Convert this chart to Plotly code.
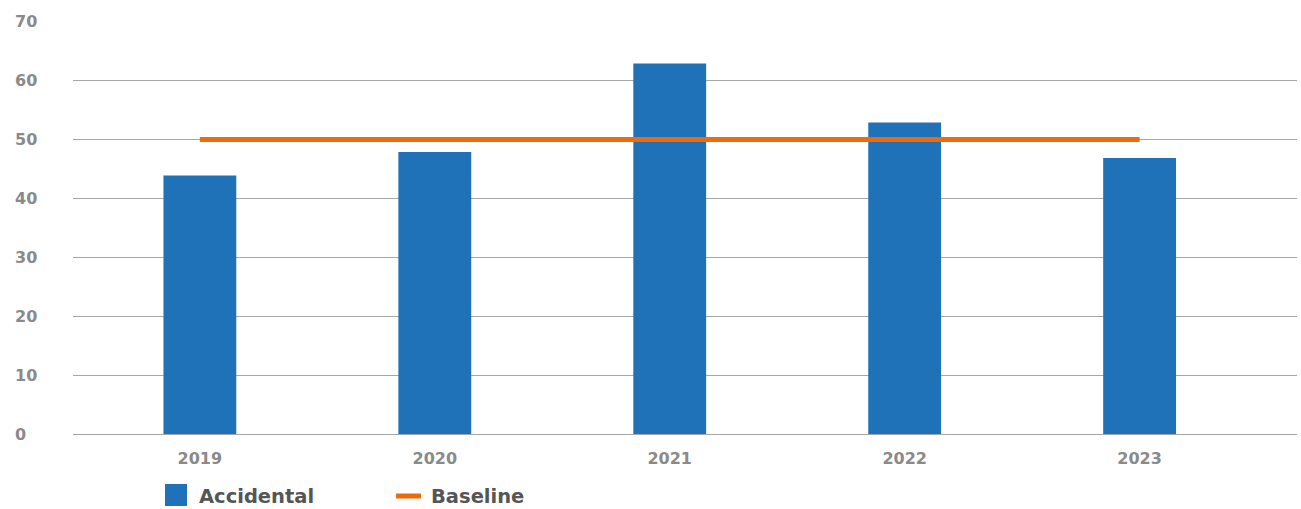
import plotly.graph_objects as go

years = ["2019", "2020", "2021", "2022", "2023"]
accidental = [43.8, 47.8, 62.8, 52.8, 46.8]
baseline = [49.9, 49.9, 49.9, 49.9, 49.9]
y_ticks = [0, 10, 20, 30, 40, 50, 60, 70]
series_names = ["Accidental", "Baseline"]
bar_color = "#1F71B8"
line_color = "#EE6A0A"

W, H = 1301, 509
L, R, T, B = 73, 4, 21, 75
pw, ph = W - L - R, H - T - B

def px(x):
    return (x - L) / pw

def py(y):
    return (H - B - y) / ph

fig = go.Figure()
fig.add_trace(go.Bar(x=years, y=accidental, name=series_names[0],
                     marker=dict(color=bar_color, line=dict(width=0)),
                     width=0.31, showlegend=False))
fig.add_trace(go.Scatter(x=years, y=baseline, name=series_names[1], mode="lines",
                         line=dict(color=line_color, width=5), showlegend=False))

annotations = []
for v in y_ticks:
    annotations.append(dict(x=px(13), xref="paper", y=v, yref="y", text="<b>" + str(v) + "</b>",
                            showarrow=False, xanchor="left", yanchor="middle",
                            font=dict(family="DejaVu Sans", size=16, color="#8A8A8A")))

shapes = [
    dict(type="rect", xref="paper", yref="paper", x0=px(165), x1=px(187),
         y0=py(506), y1=py(484), fillcolor=bar_color, line=dict(width=0)),
    dict(type="line", xref="paper", yref="paper", x0=px(396), x1=px(421),
         y0=py(496), y1=py(496), line=dict(color=line_color, width=5)),
]
annotations.append(dict(x=px(197), xref="paper", y=py(496), yref="paper", text="<b>" + series_names[0] + "</b>",
                        showarrow=False, xanchor="left", yanchor="middle",
                        font=dict(family="DejaVu Sans", size=19.5, color="#555555")))
annotations.append(dict(x=px(429), xref="paper", y=py(496), yref="paper", text="<b>" + series_names[1] + "</b>",
                        showarrow=False, xanchor="left", yanchor="middle",
                        font=dict(family="DejaVu Sans", size=19.5, color="#555555")))

fig.update_layout(
    width=W, height=H,
    margin=dict(l=L, r=R, t=T, b=B, pad=0),
    paper_bgcolor="white", plot_bgcolor="white",
    shapes=shapes, annotations=annotations,
    xaxis=dict(type="category", range=[-0.54, 4.67], showgrid=False, zeroline=False,
               showline=False, ticks="", ticklabelstandoff=13,
               tickfont=dict(family="DejaVu Sans", size=16, color="#8A8A8A"),
               fixedrange=True),
    yaxis=dict(range=[0, 70], tickvals=y_ticks, showticklabels=False, showgrid=True,
               gridcolor="#A6A6A6", gridwidth=1, zeroline=True, zerolinecolor="#A6A6A6",
               zerolinewidth=1, showline=False, fixedrange=True),
)
fig.update_xaxes(tickprefix="<b>", ticksuffix="</b>")
fig.write_html("out.html")
